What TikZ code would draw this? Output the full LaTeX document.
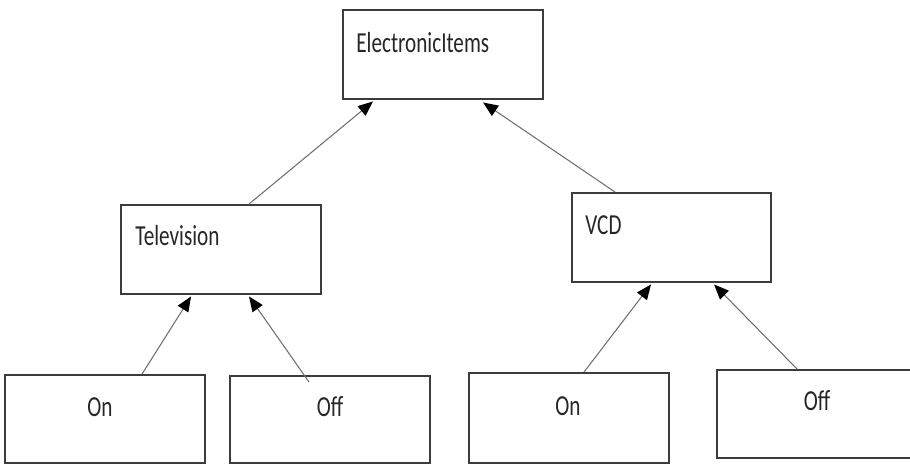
\documentclass[tikz,border=0pt]{standalone}
\usepackage{fontspec}
\setmainfont{Carlito}[FakeStretch=0.73]
\usepackage{xcolor}
\usetikzlibrary{arrows.meta,calc}
\definecolor{boxline}{HTML}{3C3C3C}
\definecolor{arrline}{HTML}{6E6E6E}

\begin{document}
\begin{tikzpicture}[every node/.style={font=\fontsize{16.5}{19}\selectfont, text=black!85},
  box/.style={draw=boxline, line width=1.1pt, minimum width=4cm, minimum height=1.78cm, inner sep=0pt},
  word/.style={inner sep=0pt},
  inherit/.style={draw=arrline, line width=0.6pt, -{Triangle[length=8.5pt, width=7pt, color=black]}}]
\useasboundingbox (0,0) rectangle (18.2,9.28);
\node[box] (EI) at (8.86, 8.19) {};
\node[box] (TV) at (4.42, 4.29) {};
\node[box, minimum width=3.98cm] (VCD) at (13.43, 4.53) {};
\node[box, minimum height=1.76cm] (On1) at (2.10, 0.90) {};
\node[box, minimum height=1.74cm] (Off1) at (6.60, 0.89) {};
\node[box, minimum height=1.80cm] (On2) at (11.38, 0.92) {};
\node[box, minimum height=1.76cm] (Off2) at (16.34, 1.00) {};
% labels
\node[word, anchor=west] (EIt) at ($(EI.north west)+(0.28,-0.68)$) {ElectronicItems};
\node[word, anchor=west] (TVt) at ($(TV.north west)+(0.30,-0.64)$) {Television};
\node[word, anchor=west] (VCDt) at ($(VCD.north west)+(0.28,-0.66)$) {VCD};
\node[word] (On1t) at ($(On1.north)+(-0.10,-0.66)$) {On};
\node[word] (Off1t) at ($(Off1.north)+(0,-0.64)$) {Off};
\node[word] (On2t) at ($(On2.north)+(-0.02,-0.68)$) {On};
\node[word] (Off2t) at ($(Off2.north)+(0,-0.64)$) {Off};
% inheritance arrows
\draw[inherit] ($(TV.north west)+(2.58,0)$) -- ($(EI.south west)+(0.62,-0.03)$);
\draw[inherit] ($(VCD.north west)+(0.88,0)$) -- ($(EI.south west)+(2.82,-0.05)$);
\draw[inherit] ($(On1.north west)+(2.76,0)$) -- ($(TV.south west)+(1.42,-0.03)$);
\draw[inherit] ($(Off1.north west)+(1.60,-0.14)$) -- ($(TV.south west)+(2.58,-0.03)$);
\draw[inherit] ($(On2.north west)+(2.32,0)$) -- ($(VCD.south west)+(1.60,-0.03)$);
\draw[inherit] ($(Off2.north west)+(1.62,0)$) -- ($(VCD.south west)+(2.86,-0.03)$);
\end{tikzpicture}
\end{document}
